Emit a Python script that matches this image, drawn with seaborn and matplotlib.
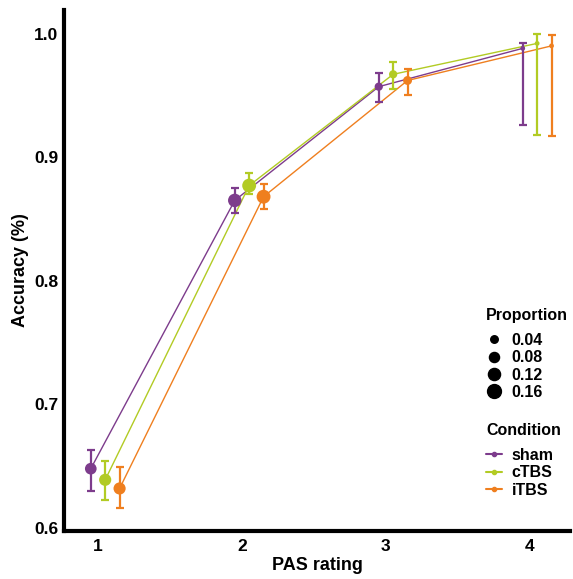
import numpy as np
import pandas as pd
import seaborn as sns
import matplotlib.pyplot as plt
from matplotlib.lines import Line2D

conditions = ["sham", "cTBS", "iTBS"]
pas = [1, 2, 3, 4]
colors = {"sham": "#7D3C8C", "cTBS": "#B2CB24", "iTBS": "#EF7F1F"}
offsets = {"sham": -0.05, "cTBS": 0.05, "iTBS": 0.15}

acc_sham = [0.648, 0.865, 0.957, 0.988]
acc_ctbs = [0.639, 0.877, 0.967, 0.992]
acc_itbs = [0.632, 0.868, 0.962, 0.990]

lo_sham = [0.630, 0.855, 0.945, 0.926]
hi_sham = [0.663, 0.875, 0.968, 0.992]
lo_ctbs = [0.623, 0.870, 0.955, 0.918]
hi_ctbs = [0.654, 0.887, 0.977, 1.000]
lo_itbs = [0.616, 0.858, 0.950, 0.917]
hi_itbs = [0.649, 0.878, 0.971, 0.999]

prop_sham = [0.11, 0.15, 0.05, 0.01]
prop_ctbs = [0.12, 0.16, 0.05, 0.01]
prop_itbs = [0.12, 0.16, 0.06, 0.01]

rows = []
for cond, acc, lo, hi, prop in [
    ("sham", acc_sham, lo_sham, hi_sham, prop_sham),
    ("cTBS", acc_ctbs, lo_ctbs, hi_ctbs, prop_ctbs),
    ("iTBS", acc_itbs, lo_itbs, hi_itbs, prop_itbs),
]:
    for i, p in enumerate(pas):
        rows.append({"Condition": cond, "PAS": p, "x": p + offsets[cond],
                     "acc": acc[i], "lo": lo[i], "hi": hi[i], "prop": prop[i]})
df = pd.DataFrame(rows)

sns.set_style("white")
plt.rcParams["font.family"] = ["Liberation Sans", "DejaVu Sans"]
plt.rcParams["font.weight"] = "bold"
plt.rcParams["text.color"] = "black"
plt.rcParams["axes.labelcolor"] = "black"
plt.rcParams["xtick.color"] = "black"
plt.rcParams["ytick.color"] = "black"

fig = plt.figure(figsize=(5.73, 5.79), dpi=100)
ax = fig.add_axes([0.1117, 0.0829, 0.883, 0.8998])

# lines
sns.lineplot(data=df, x="x", y="acc", hue="Condition", palette=colors,
             hue_order=conditions, lw=1, legend=False, ax=ax, sort=True)

# error bars
for cond in conditions:
    d = df[df["Condition"] == cond]
    ax.errorbar(d["x"], d["acc"], yerr=[d["acc"] - d["lo"], d["hi"] - d["acc"]],
                fmt="none", ecolor=colors[cond], elinewidth=1.6, capsize=3,
                capthick=1.6, zorder=3)

# points sized by proportion
size_norm = (0.0, 0.16)
sns.scatterplot(data=df, x="x", y="acc", hue="Condition", palette=colors,
                hue_order=conditions, size="prop", sizes=(6, 100),
                size_norm=size_norm, linewidth=0, legend=False, ax=ax, zorder=4)

ax.set_xlim(0.764, 4.278)
ax.set_ylim(0.5976, 1.019)
ax.set_xticks(pas)
ax.set_yticks([0.6, 0.7, 0.8, 0.9, 1.0])
ax.set_yticklabels(["0.6", "0.7", "0.8", "0.9", "1.0"])
ax.tick_params(length=0, labelsize=12.5, labelcolor="black")
ax.tick_params(axis="x", pad=6)
ax.tick_params(axis="y", pad=4)
for lab in ax.get_xticklabels() + ax.get_yticklabels():
    lab.set_fontweight("bold")
ax.set_xlabel("PAS rating", fontsize=13, fontweight="bold", labelpad=2)
ax.set_ylabel("Accuracy (%)", fontsize=13, fontweight="bold", labelpad=4)

for s in ["top", "right"]:
    ax.spines[s].set_visible(False)
for s in ["left", "bottom"]:
    ax.spines[s].set_linewidth(3)
    ax.spines[s].set_color("black")

# legends
legend_props = [0.04, 0.08, 0.12, 0.16]
size_handles = []
for p in legend_props:
    s = 6 + (100 - 6) * (p - size_norm[0]) / (size_norm[1] - size_norm[0])
    size_handles.append(Line2D([], [], ls="none", marker="o", color="black",
                               markersize=np.sqrt(s)))
leg1 = ax.legend(size_handles, [f"{p:.2f}" for p in legend_props], title="Proportion",
                 loc="upper left", bbox_to_anchor=(0.822, 0.44), frameon=False,
                 prop={"size": 11.5, "weight": "bold"}, handlelength=1.0,
                 handletextpad=0.6, labelspacing=0.15, borderaxespad=0)
leg1.get_title().set_fontweight("bold")
leg1.get_title().set_fontsize(11.5)
leg1._legend_box.align = "left"
leg1._legend_box.sep = 7
ax.add_artist(leg1)

cond_handles = [Line2D([], [], color=colors[c], lw=1.5, marker="o", markersize=3)
                for c in conditions]
leg2 = ax.legend(cond_handles, conditions, title="Condition", loc="upper left",
                 bbox_to_anchor=(0.822, 0.219), frameon=False,
                 prop={"size": 11.5, "weight": "bold"}, handlelength=1.0,
                 handletextpad=0.6, labelspacing=0.15, borderaxespad=0)
leg2.get_title().set_fontweight("bold")
leg2.get_title().set_fontsize(11.5)
leg2._legend_box.align = "left"
leg2._legend_box.sep = 7

fig.savefig("out.png", dpi=100)
